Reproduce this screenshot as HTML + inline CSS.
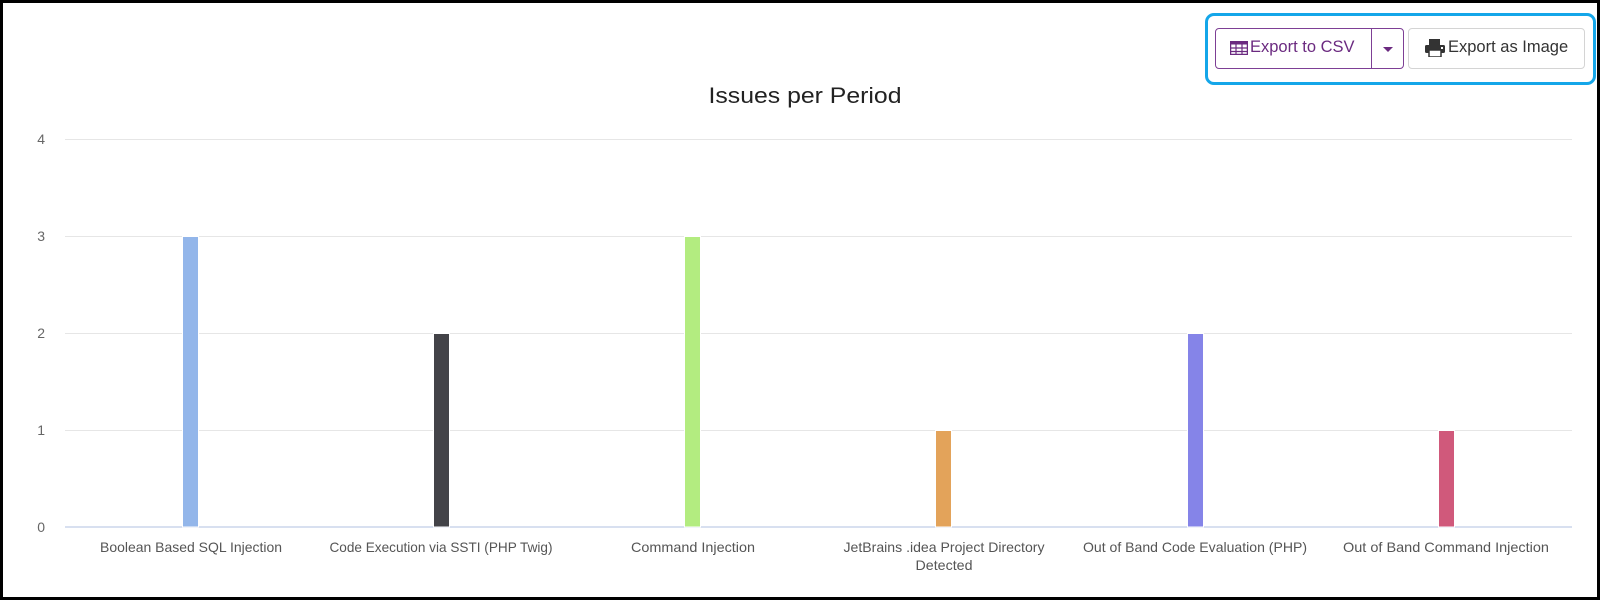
<!DOCTYPE html>
<html>
<head>
<meta charset="utf-8">
<style>
  html,body{margin:0;padding:0;background:#fff;}
  body{width:1600px;height:600px;position:relative;overflow:hidden;font-family:"Liberation Sans",sans-serif;}
  .frame{position:absolute;left:0;top:0;width:1594px;height:594px;border:3px solid #000;}
  .hl{position:absolute;left:1205px;top:13px;width:385px;height:66px;border:3px solid #14a6e9;border-radius:9px;box-sizing:content-box;}
  .csv{position:absolute;left:1215px;top:28px;width:187px;height:39px;border:1px solid #7d3f95;border-radius:4px;background:#fff;}
  .csv .div{position:absolute;left:155px;top:0;width:1px;height:39px;background:#7d3f95;}
  .csv .txt{position:absolute;left:34px;top:9px;font-size:16.5px;color:#6b2a80;white-space:nowrap;}
  .img{position:absolute;left:1408px;top:28px;width:175px;height:39px;border:1px solid #d4d4d4;border-radius:4px;background:#fff;}
  .img .txt{position:absolute;left:39px;top:9px;font-size:16.5px;color:#333;white-space:nowrap;}
</style>
</head>
<body>
<div class="frame"></div>

<svg width="1600" height="600" style="position:absolute;left:0;top:0" xmlns="http://www.w3.org/2000/svg">
  <!-- title -->
  <text x="805" y="103" text-anchor="middle" font-family="Liberation Sans, sans-serif" font-size="22" fill="#222" textLength="193" lengthAdjust="spacingAndGlyphs">Issues per Period</text>

  <!-- grid -->
  <g stroke="#e6e6e6" stroke-width="1">
    <line x1="65" y1="139.5" x2="1572" y2="139.5"/>
    <line x1="65" y1="236.5" x2="1572" y2="236.5"/>
    <line x1="65" y1="333.5" x2="1572" y2="333.5"/>
    <line x1="65" y1="430.5" x2="1572" y2="430.5"/>
  </g>
  <line x1="65" y1="527" x2="1572" y2="527" stroke="#ccd6eb" stroke-width="1.5"/>

  <!-- y labels -->
  <g font-family="Liberation Sans, sans-serif" font-size="14" fill="#666" text-anchor="end">
    <text x="45" y="144">4</text>
    <text x="45" y="241">3</text>
    <text x="45" y="338">2</text>
    <text x="45" y="435">1</text>
    <text x="45" y="532">0</text>
  </g>

  <!-- bars -->
  <g stroke="#fff" stroke-width="1">
    <rect x="182.5" y="236.5" width="16" height="290.5" fill="#93b6ea"/>
    <rect x="433.5" y="333.5" width="16" height="193.5" fill="#434348"/>
    <rect x="684.5" y="236.5" width="16" height="290.5" fill="#b3ec80"/>
    <rect x="935.5" y="430.5" width="16" height="96.5" fill="#e3a35a"/>
    <rect x="1187.5" y="333.5" width="16" height="193.5" fill="#8584e8"/>
    <rect x="1438.5" y="430.5" width="16" height="96.5" fill="#d0597b"/>
  </g>

  <!-- x labels -->
  <g font-family="Liberation Sans, sans-serif" font-size="14" fill="#555" text-anchor="middle">
    <text x="191" y="552" textLength="182" lengthAdjust="spacingAndGlyphs">Boolean Based SQL Injection</text>
    <text x="441" y="552" textLength="223" lengthAdjust="spacingAndGlyphs">Code Execution via SSTI (PHP Twig)</text>
    <text x="693" y="552" textLength="124" lengthAdjust="spacingAndGlyphs">Command Injection</text>
    <text x="944" y="552" textLength="201" lengthAdjust="spacingAndGlyphs">JetBrains .idea Project Directory</text>
    <text x="944" y="570" textLength="57" lengthAdjust="spacingAndGlyphs">Detected</text>
    <text x="1195" y="552" textLength="224" lengthAdjust="spacingAndGlyphs">Out of Band Code Evaluation (PHP)</text>
    <text x="1446" y="552" textLength="206" lengthAdjust="spacingAndGlyphs">Out of Band Command Injection</text>
  </g>
</svg>

<div class="hl"></div>

<div class="csv">
  <svg width="18" height="14" style="position:absolute;left:14px;top:12px" xmlns="http://www.w3.org/2000/svg">
    <rect x="0.5" y="0.5" width="17" height="13" fill="none" stroke="#6b2a80" stroke-width="1.5"/>
    <rect x="0" y="0" width="18" height="3.5" fill="#6b2a80"/>
    <line x1="6" y1="0" x2="6" y2="14" stroke="#6b2a80" stroke-width="1.2"/>
    <line x1="12" y1="0" x2="12" y2="14" stroke="#6b2a80" stroke-width="1.2"/>
    <line x1="0" y1="7" x2="18" y2="7" stroke="#6b2a80" stroke-width="1.2"/>
    <line x1="0" y1="10.5" x2="18" y2="10.5" stroke="#6b2a80" stroke-width="1.2"/>
  </svg>
  <div class="txt">Export to CSV</div>
  <div class="div"></div>
  <svg width="12" height="8" style="position:absolute;left:166px;top:17px" xmlns="http://www.w3.org/2000/svg">
    <polygon points="1,1 11,1 6,6" fill="#6b2a80"/>
  </svg>
</div>

<div class="img">
  <svg width="20" height="18" style="position:absolute;left:16px;top:10px" xmlns="http://www.w3.org/2000/svg">
    <rect x="4" y="0" width="11" height="6" fill="#333"/>
    <rect x="0" y="6" width="20" height="8" rx="1.5" fill="#333"/>
    <rect x="4" y="11" width="12" height="7" fill="#fff" stroke="#333" stroke-width="1.5"/>
    <rect x="16" y="8" width="2" height="2" fill="#fff"/>
  </svg>
  <div class="txt">Export as Image</div>
</div>
</body>
</html>
